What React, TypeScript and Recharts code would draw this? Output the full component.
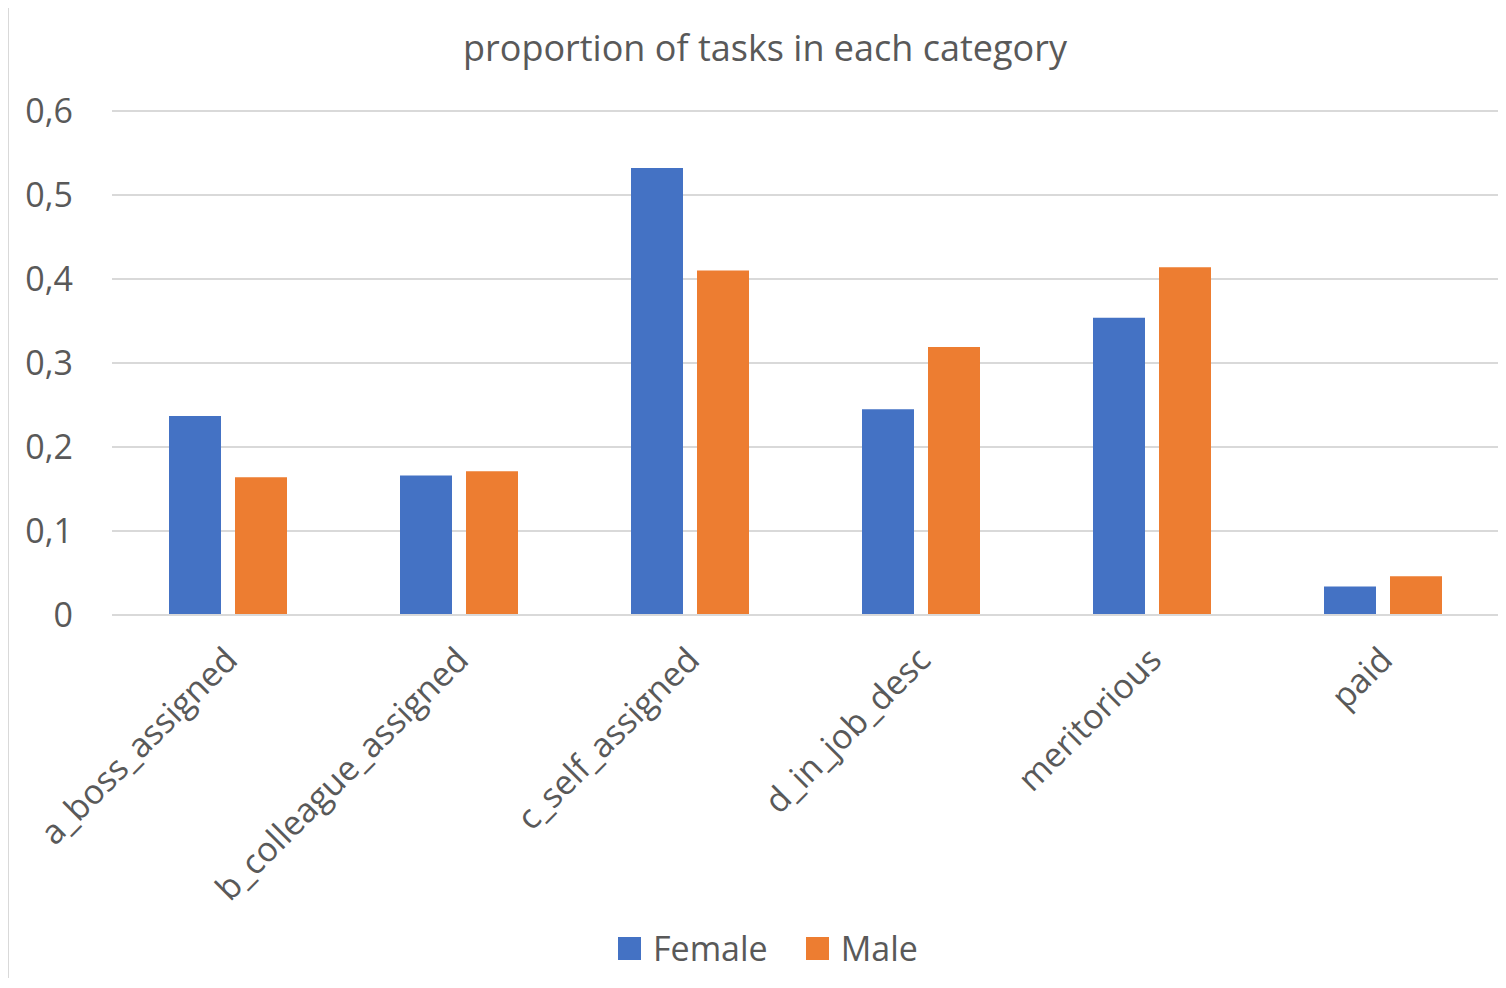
import { Bar, BarChart, CartesianGrid, Legend, XAxis, YAxis } from 'recharts'

// categories and values
const categories = ['a_boss_assigned', 'b_colleague_assigned', 'c_self_assigned', 'd_in_job_desc', 'meritorious', 'paid']
const female = [0.237, 0.166, 0.532, 0.245, 0.354, 0.034]
const male = [0.164, 0.171, 0.41, 0.319, 0.414, 0.046]
const yTicks = [0, 0.1, 0.2, 0.3, 0.4, 0.5, 0.6]

const data = categories.map((name, i) => ({ name, Female: female[i], Male: male[i] }))

const FONT = "'Open Sans', sans-serif"
const TEXT = '#595959'

// rotated category label, anchored at its end
const XTick = ({ x, y, payload }: any) => {
	const ax = x + 12
	const ay = y + 47
	return (
		<text x={ax} y={ay} transform={`rotate(-45 ${ax} ${ay})`} textAnchor='end' fill={TEXT} fontSize={34} fontFamily={FONT}>
			{payload.value}
		</text>
	)
}

const LegendBox = () => (
	<div style={{ display: 'flex', alignItems: 'center', fontFamily: FONT, fontSize: 34, color: TEXT, lineHeight: '46px' }}>
		<span style={{ width: 23, height: 23, background: '#4472C4', display: 'inline-block', marginRight: 12 }} />
		<span style={{ marginRight: 38 }}>Female</span>
		<span style={{ width: 23, height: 23, background: '#ED7D31', display: 'inline-block', marginRight: 12 }} />
		<span>Male</span>
	</div>
)

export default function App() {
	return (
		<div style={{ position: 'relative', width: 1490, height: 970, fontFamily: FONT }}>
			<div style={{ position: 'absolute', left: -1, top: -2, width: 1499, height: 990, boxSizing: 'border-box', borderLeft: '2px solid #d9d9d9', borderTop: '2px solid #d9d9d9' }} />
			<div style={{ position: 'absolute', left: 0, width: 1514, top: 16, textAlign: 'center', fontSize: 36, color: TEXT, lineHeight: '48px' }}>proportion of tasks in each category</div>
			<BarChart width={1490} height={970} data={data} margin={{ top: 103, right: 0, left: 1, bottom: 63 }} barSize={52} barGap={14}>
				<CartesianGrid horizontal={true} vertical={false} stroke='#d9d9d9' strokeWidth={2} />
				<XAxis dataKey='name' height={300} interval={0} tickLine={false} tickSize={0} tickMargin={0} axisLine={{ stroke: '#d9d9d9', strokeWidth: 2 }} tick={<XTick />} />
				<YAxis
					width={103}
					domain={[0, 0.6]}
					ticks={yTicks}
					axisLine={false}
					tickLine={false}
					tickSize={0}
					tickMargin={39}
					tickFormatter={(v: number) => String(v).replace('.', ',')}
					tick={{ fill: TEXT, fontSize: 34, fontFamily: FONT }}
				/>
				<Legend layout='horizontal' verticalAlign='middle' align='center' wrapperStyle={{ top: 917, left: 610, width: 'auto' }} content={<LegendBox />} />
				<Bar dataKey='Female' fill='#4472C4' isAnimationActive={false} />
				<Bar dataKey='Male' fill='#ED7D31' isAnimationActive={false} />
			</BarChart>
		</div>
	)
}
